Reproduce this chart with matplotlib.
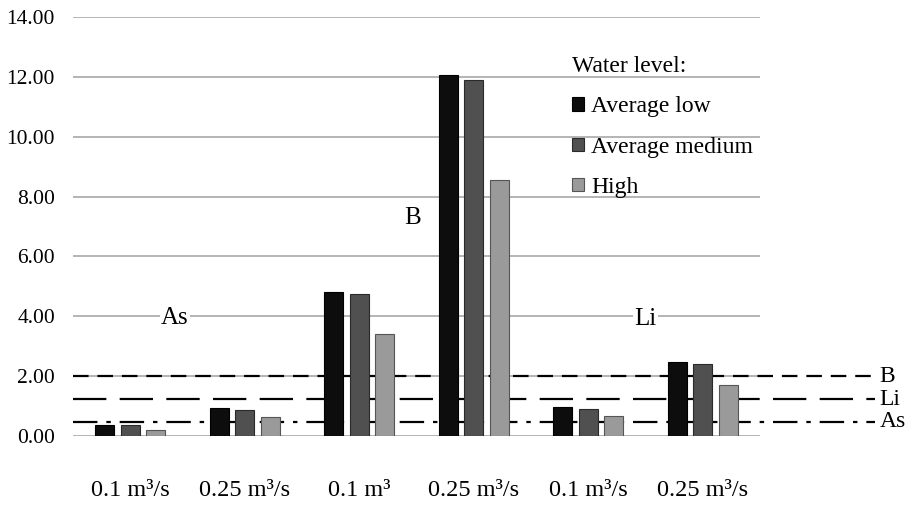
import matplotlib
matplotlib.use("Agg")
import matplotlib.pyplot as plt
from matplotlib.patches import Patch
import numpy as np

plt.rcParams['font.family'] = ['Liberation Serif', 'DejaVu Serif']

categories = ["0.1 m³/s", "0.25 m³/s", "0.1 m³", "0.25 m³/s", "0.1 m³/s", "0.25 m³/s"]
series_names = ["Average low", "Average medium", "High"]
average_low = [0.37, 0.92, 4.81, 12.06, 0.97, 2.46]
average_medium = [0.38, 0.87, 4.74, 11.90, 0.91, 2.40]
high = [0.21, 0.62, 3.41, 8.57, 0.67, 1.70]
limit_names = ["B", "Li", "As"]
limit_values = [2.0, 1.23, 0.47]
element_labels = ["As", "B", "Li"]
element_label_pos = [(0.39, 3.94), (2.47, 7.3), (4.5, 3.9)]
yticks = [0, 2, 4, 6, 8, 10, 12, 14]

colors = ["#0d0d0d", "#505050", "#9a9a9a"]
edge = ["#000000", "#2a2a2a", "#555555"]

fig = plt.figure(figsize=(9.16, 5.09), dpi=100)
ax = fig.add_axes([73/916, 73/509, (875-73)/916, (436-17)/509])

n = len(categories)
x = np.arange(n)
xlim_right = n - 0.5 + (875 - 760) / 114.5
ax.set_xlim(-0.5, xlim_right)
ax.set_ylim(0, 14)

# gridlines within the chart area
ax.hlines(yticks, -0.5, n - 0.5, colors="#a8a8a8", linewidth=1.2, zorder=1)

# threshold lines
styles = [(0, (7, 4)), (0, (15, 6)), (0, (11, 4, 2, 4))]
for v, ls in zip(limit_values, styles):
    ax.axhline(v, color="black", linewidth=1.6, linestyle=ls, zorder=2)
for name, v in zip(limit_names, limit_values):
    ax.text(1.006, v, name, transform=ax.get_yaxis_transform(), ha="left",
            va="center", fontsize=17, clip_on=False)

width = 0.165
step = 0.222
for i, (vals, c, ec) in enumerate(zip([average_low, average_medium, high], colors, edge)):
    ax.bar(x + (i - 1) * step, vals, width=width, color=c, edgecolor=ec,
           linewidth=0.8, zorder=3, label=series_names[i])

for lab, (px, py) in zip(element_labels, element_label_pos):
    ax.text(px, py, lab, ha="center", va="center", fontsize=18, zorder=4,
            bbox=dict(facecolor="white", edgecolor="none", pad=1))

ax.set_yticks(yticks)
ax.set_yticklabels([f"{t:.2f}" for t in yticks], fontsize=15.5)
ax.set_xticks(x)
ax.set_xticklabels(categories, fontsize=17.5)
ax.tick_params(axis="y", length=0, pad=13)
ax.tick_params(axis="x", length=0, pad=32)
for s in ax.spines.values():
    s.set_visible(False)

handles = [Patch(facecolor=c, edgecolor=ec, linewidth=0.8) for c, ec in zip(colors, edge)]
leg = fig.legend(handles, series_names, title="Water level:", loc="upper left",
                 bbox_to_anchor=(572/916, 1 - 56/509), frameon=False, fontsize=17,
                 title_fontsize=17, handlelength=0.5, handleheight=0.5,
                 handletextpad=0.3, labelspacing=0.82, alignment="left",
                 borderaxespad=0, borderpad=0)

fig.savefig("out.png", dpi=100, facecolor="white")
